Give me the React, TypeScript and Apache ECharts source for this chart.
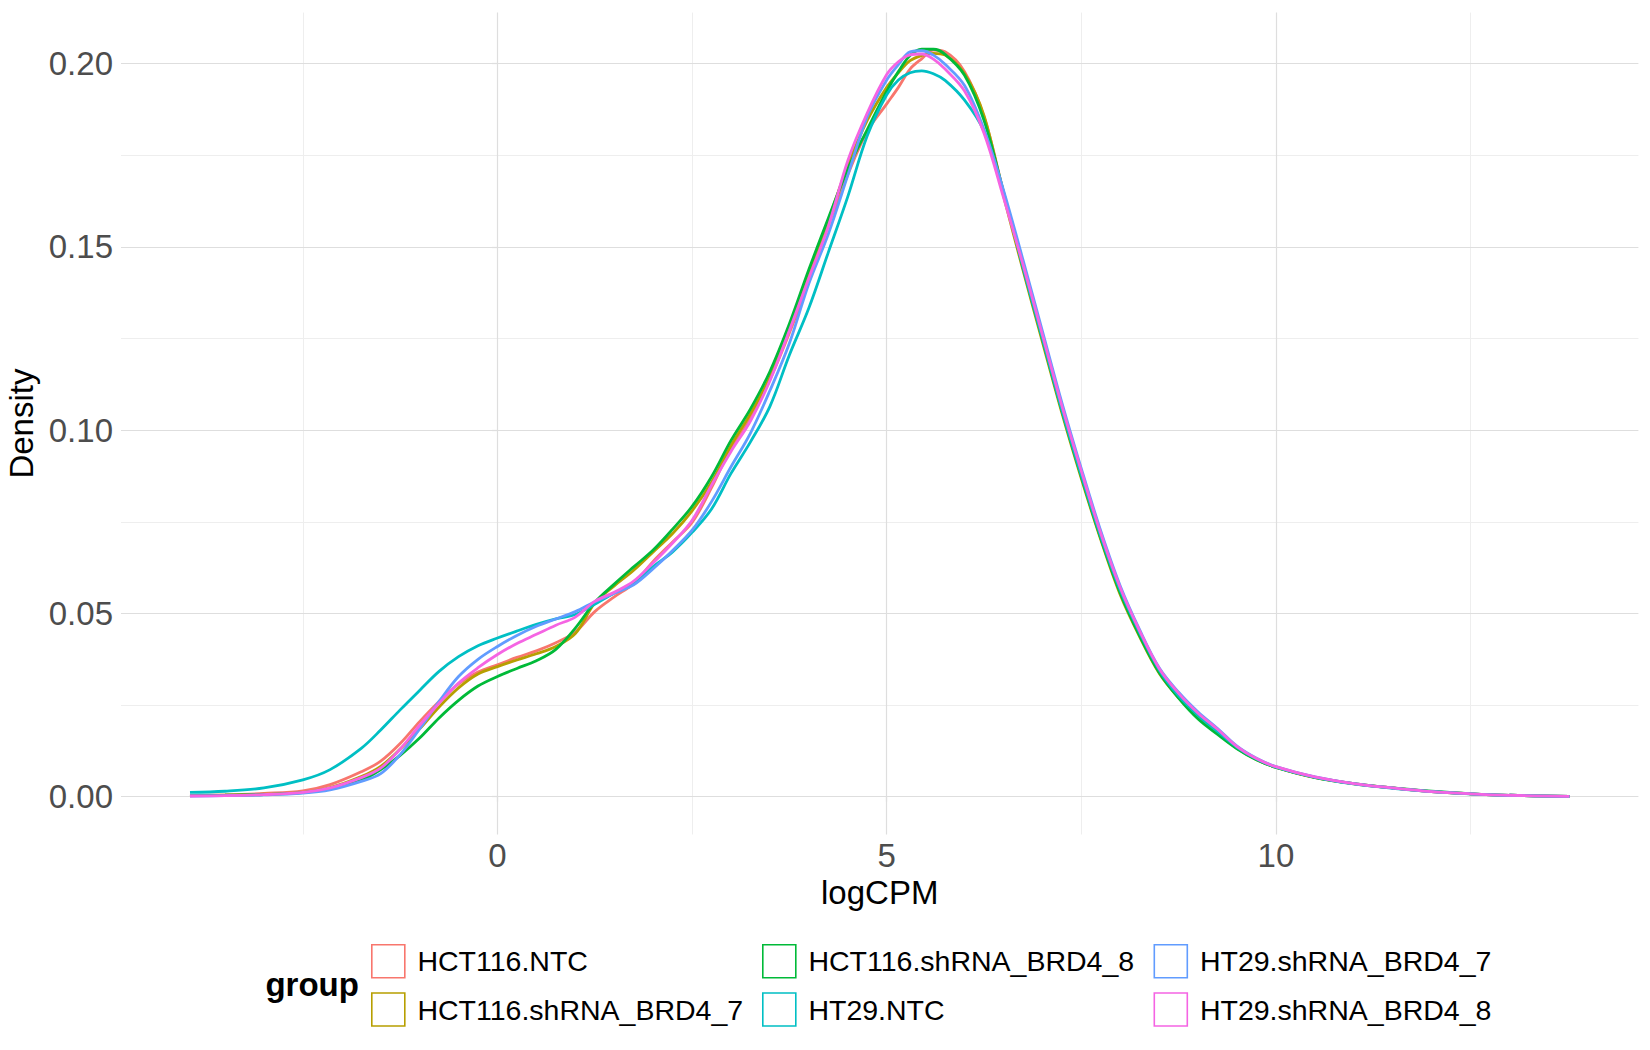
import React, { useEffect, useRef } from "react";
import * as echarts from "echarts";

const X = [-3.95, -3.5, -3, -2.5, -2.15, -1.75, -1.5, -1.25, -1, -0.75, -0.5, -0.25, 0, 0.25, 0.5, 0.75, 1, 1.25, 1.5, 1.75, 2, 2.25, 2.5, 2.75, 3, 3.25, 3.5, 3.75, 4, 4.25, 4.5, 4.75, 5, 5.15, 5.3, 5.45, 5.6, 5.75, 6, 6.25, 6.5, 6.75, 7, 7.25, 7.5, 7.75, 8, 8.25, 8.5, 8.75, 9, 9.25, 9.5, 9.75, 10, 10.5, 11, 11.5, 12, 12.5, 13, 13.77];

const HCT116_NTC = [0.0003, 0.0005, 0.0009, 0.0016, 0.0033, 0.0068, 0.0097, 0.0145, 0.0205, 0.026, 0.0308, 0.034, 0.036, 0.038, 0.0398, 0.042, 0.0449, 0.0505, 0.0545, 0.0582, 0.0642, 0.0695, 0.0748, 0.0843, 0.0952, 0.1035, 0.1138, 0.1265, 0.1405, 0.1558, 0.1697, 0.1815, 0.189, 0.1935, 0.1985, 0.2013, 0.2037, 0.2032, 0.1978, 0.1855, 0.165, 0.1442, 0.1247, 0.1053, 0.0874, 0.0706, 0.0558, 0.0441, 0.0341, 0.0273, 0.022, 0.0177, 0.0134, 0.0102, 0.0081, 0.0053, 0.0036, 0.0024, 0.0014, 0.0008, 0.0004, 0.0001];

const HCT116_BRD4_7 = [0.0003, 0.0004, 0.0007, 0.0012, 0.0025, 0.0055, 0.0083, 0.013, 0.0185, 0.0245, 0.0297, 0.0335, 0.0355, 0.0373, 0.039, 0.041, 0.0445, 0.0528, 0.0575, 0.0618, 0.0668, 0.0718, 0.078, 0.0858, 0.0958, 0.1045, 0.1145, 0.1275, 0.1428, 0.1572, 0.1722, 0.1845, 0.1935, 0.1975, 0.2008, 0.2022, 0.2028, 0.2023, 0.1972, 0.1858, 0.164, 0.1437, 0.1241, 0.1047, 0.0868, 0.0701, 0.0551, 0.0436, 0.0337, 0.027, 0.0217, 0.0174, 0.0132, 0.0101, 0.008, 0.0052, 0.0035, 0.0024, 0.0014, 0.0008, 0.0004, 0.0001];

const HCT116_BRD4_8 = [0.0003, 0.0004, 0.0006, 0.0011, 0.0022, 0.0045, 0.0074, 0.0113, 0.016, 0.0215, 0.0263, 0.0302, 0.0328, 0.035, 0.0371, 0.0402, 0.046, 0.053, 0.058, 0.0627, 0.0673, 0.073, 0.0792, 0.0873, 0.0972, 0.1058, 0.116, 0.129, 0.1438, 0.1578, 0.1712, 0.182, 0.1925, 0.1978, 0.2022, 0.2039, 0.2039, 0.2025, 0.1968, 0.1845, 0.165, 0.1445, 0.1248, 0.1053, 0.0873, 0.0705, 0.0556, 0.0439, 0.0339, 0.0269, 0.0212, 0.017, 0.0131, 0.0101, 0.008, 0.0053, 0.0036, 0.0024, 0.0015, 0.0008, 0.0004, 0.0001];

const HT29_NTC = [0.0012, 0.0015, 0.0024, 0.0046, 0.0074, 0.0132, 0.0182, 0.0237, 0.029, 0.0342, 0.0382, 0.0412, 0.0433, 0.0452, 0.047, 0.0485, 0.0497, 0.0525, 0.0556, 0.0582, 0.0628, 0.0668, 0.0721, 0.0785, 0.0882, 0.0968, 0.1065, 0.1205, 0.1333, 0.1485, 0.1637, 0.1803, 0.1915, 0.1955, 0.1975, 0.198, 0.1972, 0.1954, 0.19, 0.1815, 0.1648, 0.1445, 0.125, 0.1055, 0.0877, 0.071, 0.0563, 0.0447, 0.0346, 0.0275, 0.0222, 0.0178, 0.0135, 0.0103, 0.0081, 0.0053, 0.0035, 0.0023, 0.0014, 0.0008, 0.0004, 0.0001];

const HT29_BRD4_7 = [0.0002, 0.0003, 0.0005, 0.001, 0.0019, 0.0042, 0.0063, 0.0115, 0.0185, 0.026, 0.0328, 0.0375, 0.041, 0.044, 0.0465, 0.0485, 0.0505, 0.0532, 0.0555, 0.0578, 0.0622, 0.0672, 0.0727, 0.0805, 0.09, 0.0992, 0.1108, 0.1237, 0.14, 0.1535, 0.1695, 0.1855, 0.1955, 0.1997, 0.2032, 0.2035, 0.2023, 0.1998, 0.194, 0.182, 0.1655, 0.1465, 0.127, 0.1075, 0.0895, 0.0725, 0.0575, 0.0455, 0.0352, 0.0285, 0.0231, 0.0186, 0.0138, 0.0105, 0.0082, 0.0054, 0.0036, 0.0024, 0.0014, 0.0008, 0.0004, 0.0001];

const HT29_BRD4_8 = [0.0002, 0.0003, 0.0006, 0.0012, 0.0024, 0.0052, 0.0078, 0.013, 0.0195, 0.0255, 0.031, 0.0352, 0.0388, 0.0418, 0.0443, 0.0468, 0.049, 0.0533, 0.0558, 0.0588, 0.0638, 0.0692, 0.0754, 0.085, 0.0942, 0.1025, 0.1135, 0.1272, 0.1415, 0.1556, 0.1735, 0.1865, 0.197, 0.2005, 0.2024, 0.2026, 0.2012, 0.1985, 0.1925, 0.181, 0.1635, 0.1452, 0.126, 0.1066, 0.0888, 0.0718, 0.057, 0.0452, 0.035, 0.0282, 0.0228, 0.0184, 0.0137, 0.0104, 0.0082, 0.0054, 0.0036, 0.0024, 0.0014, 0.0008, 0.0004, 0.0001];

const GROUPS = ["HCT116.NTC", "HCT116.shRNA_BRD4_7", "HCT116.shRNA_BRD4_8", "HT29.NTC", "HT29.shRNA_BRD4_7", "HT29.shRNA_BRD4_8"];
const VALUES = [HCT116_NTC, HCT116_BRD4_7, HCT116_BRD4_8, HT29_NTC, HT29_BRD4_7, HT29_BRD4_8];
const COLORS = ["#F8766D", "#B79F00", "#00BA38", "#00BFC4", "#619CFF", "#F564E3"];

const X_TICKS = [0, 5, 10];
const X_MINOR = [-2.5, 2.5, 7.5, 12.5];
const Y_TICKS = [0, 0.05, 0.1, 0.15, 0.2];
const Y_MINOR = [0.025, 0.075, 0.125, 0.175];

const FONT = "'Liberation Sans', Arial, Helvetica, sans-serif";

export default function App() {
  const ref = useRef<HTMLDivElement>(null);
  useEffect(() => {
    document.body.style.margin = "0";
    const chart = echarts.init(ref.current!, null, { renderer: "svg" });
    const major = { color: "#dedede", width: 1.2, type: "solid" };
    const minor = { color: "#eeeeee", width: 1, type: "solid" };
    const gridLines = [
      ...X_MINOR.map((v) => ({ xAxis: v, lineStyle: minor })),
      ...Y_MINOR.map((v) => ({ yAxis: v, lineStyle: minor })),
      ...X_TICKS.map((v) => ({ xAxis: v, lineStyle: major })),
      ...Y_TICKS.map((v) => ({ yAxis: v, lineStyle: major })),
    ];
    const series: any[] = [
      {
        name: "__grid",
        type: "line",
        data: [],
        z: 1,
        silent: true,
        markLine: {
          silent: true,
          z: 1,
          precision: 6,
          symbol: ["none", "none"],
          label: { show: false },
          emphasis: { disabled: true },
          data: gridLines,
        },
      },
      ...GROUPS.map((g, i) => ({
        name: g,
        type: "line",
        z: 3,
        data: X.map((x, j) => [x, VALUES[i][j]]),
        showSymbol: false,
        symbol: "none",
        smooth: 0.35,
        lineStyle: { color: COLORS[i], width: 2.8 },
        itemStyle: { color: COLORS[i] },
        emphasis: { disabled: true },
      })),
    ];
    const legendCol = (names: string[], left: number) => ({
      orient: "vertical",
      left,
      top: 944,
      padding: 0,
      itemWidth: 33,
      itemHeight: 33,
      itemGap: 13.6,
      selectedMode: false,
      icon: "rect",
      textStyle: { fontSize: 28.5, color: "#000", fontFamily: FONT, padding: [0, 0, 0, 7.6] },
      data: names.map((n) => ({
        name: n,
        icon: "rect",
        itemStyle: { color: "#ffffff", borderColor: COLORS[GROUPS.indexOf(n)], borderWidth: 1.6 },
      })),
    });
    chart.setOption({
      animation: false,
      backgroundColor: "#ffffff",
      textStyle: { fontFamily: FONT },
      grid: { left: 121, right: 11.6, top: 12.6, bottom: 215.5, containLabel: false, outerBoundsMode: "none" },
      xAxis: {
        type: "value",
        min: -4.836,
        max: 14.656,
        name: "logCPM",
        nameLocation: "middle",
        nameGap: 35.5,
        nameTextStyle: { fontSize: 33, color: "#000", fontFamily: FONT },
        axisLine: { show: false },
        axisTick: { show: true, customValues: X_TICKS, length: 5, lineStyle: { color: "#d6d6d6", width: 1.2 } },
        axisLabel: { customValues: X_TICKS, margin: 4, fontSize: 33, color: "#4d4d4d", fontFamily: FONT, formatter: (v: number) => String(v) },
        splitLine: { show: false },
        minorSplitLine: { show: false },
      },
      yAxis: {
        type: "value",
        min: -0.0103,
        max: 0.2139,
        name: "Density",
        nameLocation: "middle",
        nameRotate: 90,
        nameGap: 82,
        nameTextStyle: { fontSize: 33, color: "#000", fontFamily: FONT },
        axisLine: { show: false },
        axisTick: { show: true, customValues: Y_TICKS, length: 5.5, lineStyle: { color: "#d6d6d6", width: 1.2 } },
        axisLabel: { customValues: Y_TICKS, margin: 8, fontSize: 33, color: "#4d4d4d", fontFamily: FONT, formatter: (v: number) => v.toFixed(2) },
        splitLine: { show: false },
      },
      legend: [
        legendCol([GROUPS[0], GROUPS[1]], 371),
        legendCol([GROUPS[2], GROUPS[3]], 762),
        legendCol([GROUPS[4], GROUPS[5]], 1153.5),
      ],
      graphic: [
        {
          type: "text",
          x: 265.4,
          y: 984,
          style: { text: "group", font: `bold 33px ${FONT}`, fill: "#000", align: "left", verticalAlign: "middle" },
        },
      ],
      series,
    });
    return () => chart.dispose();
  }, []);
  return <div ref={ref} style={{ width: 1650, height: 1050 }} />;
}
